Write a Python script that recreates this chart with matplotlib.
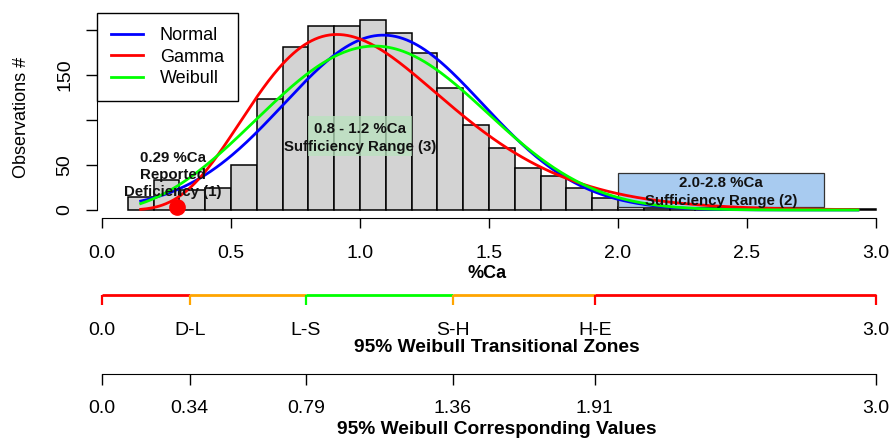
import math

import numpy as np
import matplotlib
matplotlib.use("Agg")
import matplotlib.pyplot as plt
from matplotlib.patches import Rectangle

plt.rcParams['font.family'] = ['Liberation Sans', 'DejaVu Sans']

# histogram of %Ca observations, 0.1 wide bins starting at 0.1
bin_edges = np.round(np.arange(0.1, 3.0001, 0.1), 2)
counts = [15, 33, 22, 24, 50, 123, 181, 205, 204, 211, 197, 175, 136, 94,
          69, 47, 38, 25, 13, 3, 2, 2, 1, 1, 1, 1, 0, 1, 1]
bin_width = 0.1

# fitted distributions
normal_mean, normal_sd = 1.09, 0.385
gamma_shape, gamma_rate = 6.8, 6.37
weibull_shape, weibull_scale = 3.0, 1.21
fit_range = (0.15, 2.93)

# annotations
deficiency_value = 0.29
suff_range_3 = (0.8, 1.2)
suff_range_2 = (2.0, 2.8)

# transitional zones (95% Weibull)
zone_edges = [0.0, 0.34, 0.79, 1.36, 1.91, 3.0]
zone_colors = ['#FF0000', '#FFA500', '#00FF00', '#FFA500', '#FF0000']
zone_labels = ['0.0', 'D-L', 'L-S', 'S-H', 'H-E', '3.0']
value_labels = ['0.0', '0.34', '0.79', '1.36', '1.91', '3.0']

x_ticks = [0.0, 0.5, 1.0, 1.5, 2.0, 2.5, 3.0]
y_ticks = [0, 50, 100, 150, 200]
y_ticklabels = ['0', '50', '', '150', '']


def normal_pdf(x):
    return np.exp(-0.5 * ((x - normal_mean) / normal_sd) ** 2) / (normal_sd * math.sqrt(2 * math.pi))


def gamma_pdf(x):
    k, r = gamma_shape, gamma_rate
    return np.exp(k * math.log(r) + (k - 1) * np.log(x) - r * x - math.lgamma(k))


def weibull_pdf(x):
    k, lam = weibull_shape, weibull_scale
    return (k / lam) * (x / lam) ** (k - 1) * np.exp(-(x / lam) ** k)


W, H = 892, 441
XLIM = (-0.02, 3.05)
PX_PER_UNIT = 258.0
X0_PX = 102.0


def fig_box(top_px, bottom_px):
    left_px = X0_PX + XLIM[0] * PX_PER_UNIT
    right_px = X0_PX + XLIM[1] * PX_PER_UNIT
    return [left_px / W, 1 - bottom_px / H, (right_px - left_px) / W, (bottom_px - top_px) / H]


fig = plt.figure(figsize=(W / 100, H / 100), dpi=100)

# ---- main histogram panel ----
ax = fig.add_axes(fig_box(12.9, 218.1))
ax.set_xlim(*XLIM)
ax.set_ylim(-9, 219)

ax.bar(bin_edges[:-1], counts, width=bin_width, align='edge', color='#D3D3D3',
       edgecolor='black', linewidth=1.1, zorder=1)

ax.add_patch(Rectangle((suff_range_3[0], 60), suff_range_3[1] - suff_range_3[0], 44,
                       facecolor='#B9E3BE', edgecolor='none', alpha=0.75, zorder=2))
ax.add_patch(Rectangle((suff_range_2[0], 3), suff_range_2[1] - suff_range_2[0], 38.5,
                       facecolor='#A8CBF0', edgecolor='#333333', linewidth=0.9, zorder=2))

xs = np.linspace(fit_range[0], fit_range[1], 400)
scale = sum(counts) * bin_width
ax.plot(xs, normal_pdf(xs) * scale, color='#0000FF', lw=2.0, label='Normal', zorder=3)
ax.plot(xs, gamma_pdf(xs) * scale, color='#FF0000', lw=2.0, label='Gamma', zorder=3)
ax.plot(xs, weibull_pdf(xs) * scale, color='#00FF00', lw=2.0, label='Weibull', zorder=3)

ax.plot([deficiency_value], [3.3], 'o', color='#FF0000', markersize=11, clip_on=False, zorder=5)

note_kw = dict(ha='center', va='center', fontsize=10.8, fontweight='bold',
               linespacing=1.3, color='#111111', zorder=4)
ax.text(0.275, 39, '0.29 %Ca\nReported\nDeficiency (1)', **note_kw)
ax.text(1.0, 80, '0.8 - 1.2 %Ca\nSufficiency Range (3)', **note_kw)
ax.text(2.4, 20, '2.0-2.8 %Ca\nSufficiency Range (2)', **note_kw)

leg = ax.legend(loc='upper left', bbox_to_anchor=(0, 1), borderaxespad=0,
                fontsize=13, fancybox=False, edgecolor='black', framealpha=1,
                handlelength=1.8, handletextpad=0.9, labelspacing=0.26,
                borderpad=0.78)
leg.get_frame().set_linewidth(1.0)

for side in ('top', 'right'):
    ax.spines[side].set_visible(False)
ax.spines['bottom'].set_bounds(0, 3)
ax.spines['left'].set_bounds(0, 200)
ax.spines['left'].set_position(('data', XLIM[0]))
ax.set_xticks(x_ticks)
ax.set_xticklabels([f'{t:.1f}' for t in x_ticks])
ax.set_yticks(y_ticks)
ax.set_yticklabels(y_ticklabels, rotation=90, va='center')
ax.tick_params(axis='x', length=7.2, width=1, pad=12, labelsize=14)
ax.tick_params(axis='y', length=7.9, width=1, pad=9, labelsize=14)

fig.text(22 / W, 1 - 117 / H, 'Observations #', rotation=90, ha='center', va='center', fontsize=13)
fig.text(487 / W, 1 - 273 / H, '%Ca', ha='center', va='center', fontsize=13, fontweight='bold')

# ---- transitional zones bar ----
ax_z = fig.add_axes(fig_box(295, 305))
ax_z.set_xlim(*XLIM)
ax_z.set_ylim(0, 1)
for i, c in enumerate(zone_colors):
    ax_z.hlines(1, zone_edges[i], zone_edges[i + 1], color=c, lw=2.0, clip_on=False)
tick_colors = zone_colors + [zone_colors[-1]]
for xv, c in zip(zone_edges, tick_colors):
    ax_z.vlines(xv, 0, 1, color=c, lw=1.6, clip_on=False)
for s in ax_z.spines.values():
    s.set_visible(False)
ax_z.set_yticks([])
ax_z.set_xticks(zone_edges)
ax_z.set_xticklabels(zone_labels)
ax_z.tick_params(axis='x', length=0, pad=12, labelsize=14)
ax_z.patch.set_alpha(0)
fig.text(497 / W, 1 - 347 / H, '95% Weibull Transitional Zones', ha='center', va='center',
         fontsize=13.8, fontweight='bold')

# ---- corresponding values axis ----
ax_v = fig.add_axes(fig_box(300, 374))
ax_v.set_xlim(*XLIM)
ax_v.set_yticks([])
for side in ('top', 'right', 'left'):
    ax_v.spines[side].set_visible(False)
ax_v.spines['bottom'].set_bounds(0, 3)
ax_v.set_xticks(zone_edges)
ax_v.set_xticklabels(value_labels)
ax_v.tick_params(axis='x', length=7.9, width=1, pad=11, labelsize=14)
ax_v.patch.set_alpha(0)
fig.text(497 / W, 1 - 430 / H, '95% Weibull Corresponding Values', ha='center', va='center',
         fontsize=13.8, fontweight='bold')

fig.savefig('out.png', dpi=100)
